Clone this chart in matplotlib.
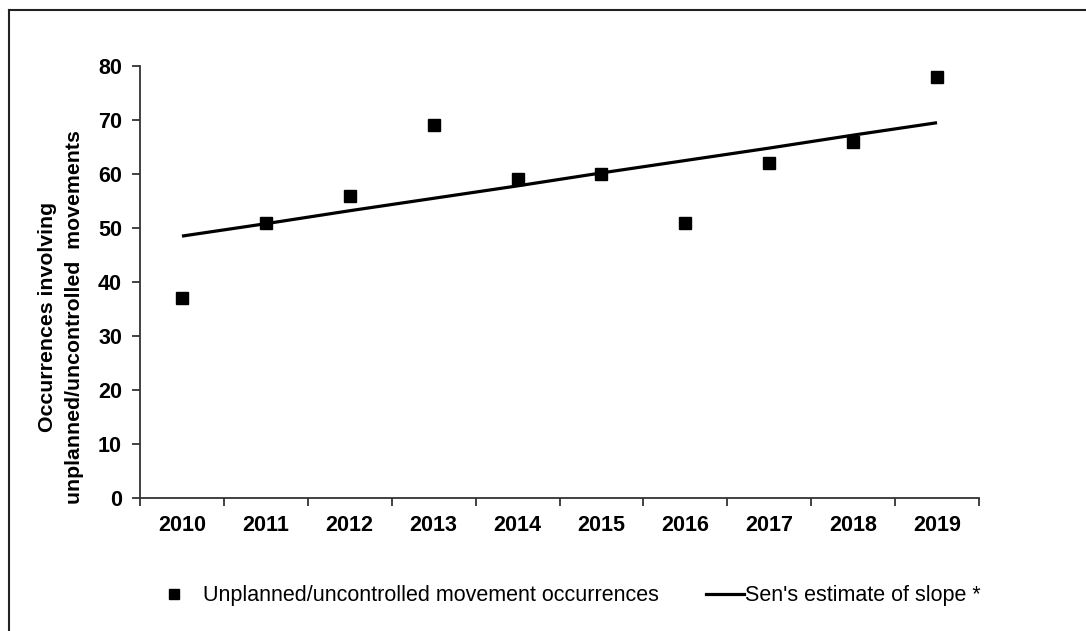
import matplotlib.pyplot as plt
from matplotlib.lines import Line2D

plt.rcParams['font.family'] = ['Liberation Sans', 'DejaVu Sans']

years = ['2010', '2011', '2012', '2013', '2014', '2015', '2016', '2017', '2018', '2019']
occurrences = [37, 51, 56, 69, 59, 60, 51, 62, 66, 78]
sen_slope = [48.5, 50.8, 53.2, 55.5, 57.8, 60.2, 62.5, 64.8, 67.2, 69.5]
yticks = [0, 10, 20, 30, 40, 50, 60, 70, 80]

W, H = 1086, 631
fig = plt.figure(figsize=(W / 100, H / 100), dpi=100)
ax = fig.add_axes([140 / W, 1 - 498 / H, (979 - 140) / W, (498 - 66) / H])

x = list(range(len(years)))
pts, = ax.plot(x, occurrences, linestyle='none', marker='s', markersize=9.3,
               color='black', clip_on=False, zorder=3)
trend, = ax.plot(x, sen_slope, color='black', lw=2.3, solid_capstyle='butt', zorder=2)

ax.set_xlim(-0.5, len(years) - 0.5)
ax.set_ylim(0, 80)
ax.set_yticks(yticks)
ax.set_yticklabels([str(v) for v in yticks], fontsize=15.5, fontweight='bold')

# category ticks between years, labels centred
ax.set_xticks([i - 0.5 for i in range(len(years) + 1)])
ax.set_xticklabels([])
ax.set_xticks(x, minor=True)
ax.set_xticklabels(years, minor=True, fontsize=15.5, fontweight='bold')
ax.tick_params(axis='x', which='major', length=6, width=1.3, color='#333333', direction='out')
ax.tick_params(axis='x', which='minor', length=0, pad=12)
ax.tick_params(axis='y', length=6, width=1.3, color='#333333', direction='out', pad=7)

for s in ['top', 'right']:
    ax.spines[s].set_visible(False)
for s in ['left', 'bottom']:
    ax.spines[s].set_linewidth(1.3)
    ax.spines[s].set_color('#333333')

fig.text(61 / W, 1 - 317 / H, 'Occurrences involving\nunplanned/uncontrolled  movements',
         rotation=90, ha='center', va='center', multialignment='center',
         fontsize=15.3, fontweight='bold', linespacing=1.5)

leg_y = 1 - 596 / H
fig.legend([Line2D([], [], linestyle='none', marker='s', markersize=7, color='black')],
           ['Unplanned/uncontrolled movement occurrences'],
           loc='center left', bbox_to_anchor=(156 / W, leg_y), frameon=False,
           fontsize=15.5, handlelength=1.7, handletextpad=0.5, borderpad=0, borderaxespad=0)
fig.legend([Line2D([], [], color='black', lw=2.3)],
           ["Sen's estimate of slope *"],
           loc='center left', bbox_to_anchor=(706 / W, leg_y), frameon=False,
           fontsize=15.5, handlelength=1.75, handletextpad=0.05, borderpad=0, borderaxespad=0)

# outer frame (left and top edges visible)
fig.add_artist(Line2D([9 / W, 9 / W], [0, 1 - 10 / H], transform=fig.transFigure,
                      color='#222222', lw=1.5))
fig.add_artist(Line2D([9 / W, 1], [1 - 10 / H, 1 - 10 / H], transform=fig.transFigure,
                      color='#222222', lw=1.5))

fig.savefig('out.png', dpi=100)
